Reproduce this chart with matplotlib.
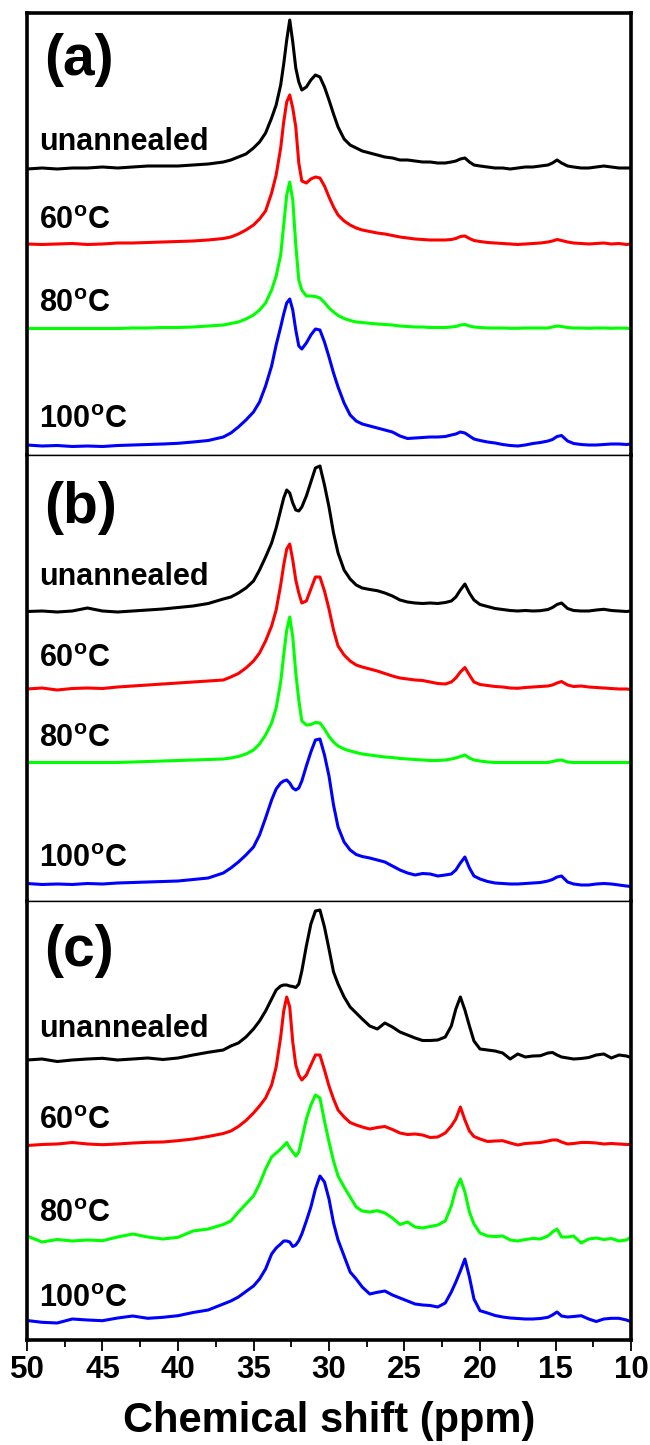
import numpy as np
import matplotlib
matplotlib.use("Agg")
import matplotlib.pyplot as plt
from matplotlib.gridspec import GridSpec

plt.rcParams['font.family'] = ['Liberation Sans', 'DejaVu Sans']
plt.rcParams['font.weight'] = 'bold'
plt.rcParams['mathtext.fontset'] = 'custom'
plt.rcParams['mathtext.rm'] = 'Liberation Sans:bold'
plt.rcParams['mathtext.bf'] = 'Liberation Sans:bold'

# Chemical shift axis (ppm), shared by every trace
ppm = np.array([
    50, 49, 48, 47, 46, 45, 44, 43, 42, 41, 40, 39, 38, 37,
    36.5, 36, 35.5, 35,
    34.6, 34.2, 33.8, 33.5, 33.2,
    33.0, 32.8, 32.6, 32.4, 32.2, 32.0,
    31.8, 31.5, 31.2, 30.9, 30.6, 30.3, 30.0,
    29.7, 29.4, 29.0, 28.6, 28.2, 27.8,
    27.3, 26.8, 26.3, 25.8, 25.3, 24.8, 24.3, 23.8, 23.3, 22.8, 22.3,
    21.9, 21.6, 21.3, 21.0, 20.7, 20.4, 20.0,
    19.5, 19.0, 18.5, 18.0, 17.5, 17.0, 16.5, 16.0, 15.5,
    15.2, 14.9, 14.6, 14.2, 13.8,
    13.3, 12.8, 12.3, 11.8, 11.3, 10.8, 10.3, 10.0])

# ---- panel (a) intensities ----
a_unannealed = [
    -2, -1, -2, -1, -1, 0, -1, 0, 1, 1, 1, 2, 3, 5,
    7, 10, 13, 19,
    25, 34, 49, 62, 82,
    103, 127, 147, 125, 99, 85,
    77, 80, 87, 92, 90, 80, 67,
    53, 40, 28, 22, 19, 16,
    14, 12, 10, 9, 7, 7, 6, 5, 5, 4, 4,
    5, 6, 8, 9, 5, 2, 1,
    0, -1, -1, -2, -1, 0, 0, 1, 2,
    4, 7, 4, 1, 0,
    -1, -1, 0, 1, 0, -1, -1, -1]
a_60 = [
    -1, -1.5, -1, -0.5, -1.5, -1, 0, 0, 0.5, 1, 1.5, 2, 3, 4.5,
    6, 9, 13, 18,
    24, 32, 50, 68, 95,
    121, 141, 148, 135, 116, 80,
    62, 60, 64, 66, 65, 57, 46,
    36, 28, 22, 18, 15, 13,
    11.5, 10, 9, 7.5, 6, 5, 4, 3.5, 3, 3, 3,
    3.5, 4.5, 6.5, 7, 4.5, 2.5, 1.5,
    0.5, 0, -0.5, -1, -1.5, -1, -0.5, 0, 1,
    2, 3.5, 2.5, 1, 0,
    -0.5, -1, -0.5, 0, -1, -0.5, -1.5, -1]
a_80 = [
    -0.5, -0.5, -0.5, -0.5, -0.5, -0.5, -0.5, 0, 0, 0.5, 0.5, 1, 2, 3,
    4.5, 6, 9, 13,
    18, 25, 38, 52, 73,
    103, 133, 146, 128, 83, 48,
    38, 32, 32, 31.5, 30, 25.5, 20,
    16, 12.5, 9.5, 7.5, 6, 5.5,
    4.7, 4, 3.5, 3, 2, 1.5, 1, 1, 0.5, 0.5, 0.5,
    1, 1.5, 3, 3.5, 2, 1, 0.5,
    0, 0, 0, -0.3, -0.3, 0, 0, 0, 0,
    1, 2, 1.5, 0.5, 0,
    0, -0.3, 0, 0, -0.3, 0, -0.3, -0.3]
a_100 = [
    -1, -2, -1.5, -2.5, -2, -2.5, -1.5, -1, -0.5, 0, 0.7, 2, 3.5, 7,
    11, 17, 24, 32,
    42, 58, 78, 99, 117,
    130, 141, 145, 134, 114, 98,
    95, 101, 109, 115, 114, 102, 87,
    71, 57, 41, 29, 23, 20,
    18, 16, 14, 12, 8, 5.5, 6, 6.5, 7, 7, 7.5,
    9, 10, 12, 11, 8, 5, 3.5,
    2, 1, -0.5, -1.5, -2, -1, 0.5, 1.5, 3,
    4.5, 7.5, 8.5, 3, 0.5,
    -0.5, -1, -1, -0.5, 0, 0, -0.5, 0]

# ---- panel (b) intensities ----
b_unannealed = [
    -1.5, -1, -2, -1, 2, -1, -2, -1, 0, 1, 2.5, 4, 6.5, 11,
    13, 17, 22, 29,
    40, 53, 67, 82, 100,
    112, 120, 117, 107, 100, 99,
    103, 114, 128, 142, 144, 125, 103,
    77, 57, 40, 31, 25, 22,
    20.5, 19.3, 17, 14, 10, 8, 7, 6.5, 7, 6.5, 7.5,
    9, 13, 20, 26, 17, 10, 5.5,
    3.5, 1.5, 0.5, -0.5, -1, -0.5, -1, -0.7, 0.5,
    2.5, 5.5, 7, 1.5, -0.5,
    -1, -1, 0, 0.7, -0.5, -1, -1.5, -1]
b_60 = [
    -1, 0, -2, -0.5, 0, -0.5, 1, 2, 3, 4, 5, 6, 7, 8,
    11, 14.5, 20, 27,
    35, 47, 62, 78, 103,
    123, 139, 144, 128, 108, 95,
    85, 87, 99, 111, 111, 97, 79,
    58, 42, 33, 27, 23, 21,
    19, 17, 14.5, 12, 10, 9, 8, 7.5, 6, 4.5, 4,
    6, 10, 16, 20.5, 13, 6, 3.5,
    2.5, 1.5, 1, 0, -0.3, 0.5, 1, 1.5, 2,
    3, 5, 6.5, 3, 1.5,
    2, 1, 0.5, 0, -0.5, -1, -1, -1.5]
b_80 = [
    0, 0, 0, 0, 0, 0, 0, 0.5, 1, 1.5, 2, 2.5, 3, 3.5,
    4.5, 6, 8.5, 12.5,
    18.5, 27.5, 39.5, 54.5, 80.5,
    107.5, 132.5, 145.5, 125.5, 89.5, 62.5,
    41.5, 37.5, 38, 40, 39.5, 33.5, 26,
    20.5, 16.5, 13.5, 11.5, 10, 8.5,
    7.5, 6.5, 5.5, 5, 4, 3.5, 3, 2.5, 2, 2, 2.5,
    3.5, 4.5, 6, 7.5, 4.5, 2.5, 1.5,
    0.5, 0, 0, 0, 0, 0, 0, 0, 0,
    1, 2, 2.5, 0.5, 0,
    0, 0, 0, 0, 0, 0, 0, 0]
b_100 = [
    0.5, -0.5, 0, -0.5, 0.5, 0, 1, 1.5, 2, 2.5, 3, 4.5, 6, 11,
    16, 22, 29, 37,
    49, 66, 84, 95, 101,
    103, 104, 101, 96, 94, 96,
    103, 118, 132, 144, 145, 129, 108,
    79, 57, 42, 34, 29.5, 27.5,
    26, 24, 22, 18, 14, 11, 9, 10.5, 10, 8, 9,
    10, 14, 21, 27, 16, 8, 5,
    2.5, 1, 0.5, 0, 0, 0.5, 1, 1.5, 3,
    4.5, 7, 8, 2, 0,
    -1, -1, 0, 0.5, 0, -1, -2, -2.5]

# ---- panel (c) intensities ----
c_unannealed = [
    -3, -2, -4.5, -3, -2, -1.3, -3, -2, -1, -2.5, -1, 2, 4.7, 7,
    11, 14, 20, 28,
    36, 46, 58, 67, 71,
    72, 72, 71, 70.5, 69.5, 73,
    86, 111, 133, 146, 147, 130, 108,
    85, 73, 60, 50, 44, 38,
    31, 28, 34, 30, 25, 22, 19, 16.5, 16.5, 17, 20,
    31, 48, 60, 47, 31, 16, 8,
    7, 6, 4, -2, 3, 0, 1, 1.3, 4,
    4.5, 2, 0, -1, -2,
    -1.5, -0.5, 2, 3, -1, 2, 1, -0.5]
c_60 = [
    -1.5, -0.5, 0, 1.5, 0, -0.7, 0, 1, 1.7, 2, 3.3, 5, 7.5, 10.5,
    13, 17.5, 23.5, 31,
    38, 46, 59, 77, 107,
    133, 147, 137, 102, 79, 69,
    64, 69, 79, 89, 89, 74, 58,
    45, 34, 27, 21.5, 19, 17,
    15, 16.5, 17.5, 14.5, 11, 9.5, 10, 9, 6.5, 7, 11,
    18, 25, 37, 24, 13, 7.5, 5,
    2.5, 3, 3.3, 1, -1, 0.5, 1, 1.5, 3,
    4, 4, 2, 0, 0.5,
    1.5, 1.5, 1, 0, 0.5, 0, -0.5, -0.5]
c_80 = [
    3, -3, -0.5, -2, -1, -1.7, 2, 5, 2, 0, 1.7, 8, 10, 14.5,
    18, 27, 35, 43,
    55, 70, 82, 86, 90,
    93, 96.5, 91, 87, 83, 87,
    100, 120, 134, 144, 141, 118, 97,
    78, 63, 52, 42, 32, 28,
    27, 28.3, 26, 21, 14.5, 17, 12, 11, 12.5, 14, 18,
    33, 50, 60, 47, 27, 15, 6,
    3, 2.5, 3, -1, -2, -0.5, 0.5, 0, 3,
    7, 10, 2, 2, 3,
    -4, 0, 1, -0.5, 0.5, -2, -1, 2]
c_100 = [
    -1.5, -3.3, -4, 0, -1, -1.7, 1, 3, 0.7, 1.7, 3.3, 6.5, 9, 15,
    18, 22, 27.5, 33,
    40, 50, 65, 71, 75,
    78, 78, 77, 72.5, 74, 78.3,
    85, 98, 112, 130, 143, 137, 120,
    96, 79, 63, 47, 40, 32,
    25, 26.7, 28, 24, 21, 18, 15, 14, 13.5, 12, 16,
    27, 37, 48, 60, 42, 20, 8.3,
    6, 3.5, 2, 1, 0.5, 0, 0, 0.5, 1.7,
    4, 7, 3, 2, 2.5,
    3.3, 0, -2.5, 0, 0.7, 0.7, -1, -2.7]

sample_names = ["unannealed", r"60$^\mathrm{o}$C", r"80$^\mathrm{o}$C", r"100$^\mathrm{o}$C"]
panel_tags = ["(a)", "(b)", "(c)"]
panel_spectra = [
    [a_unannealed, a_60, a_80, a_100],
    [b_unannealed, b_60, b_80, b_100],
    [c_unannealed, c_60, c_80, c_100],
]

# stacking layout (vertical offsets, label heights, panel heights)
trace_offsets = [[288, 212, 127, 11], [291, 213, 138.5, 17], [283, 196, 101, 21]]
label_heights = [[305, 226, 143, 27], [316, 234, 154, 34], [303, 211, 118, 33]]
tag_heights = [395, 393, 389]
panel_heights = [442, 446, 439]
colors = ["#000000", "#ff0000", "#00ff00", "#0000ff"]

fig = plt.figure(figsize=(6.5, 14.45), dpi=100)
gs = GridSpec(3, 1, figure=fig, height_ratios=panel_heights, hspace=0,
              left=27 / 650, right=631 / 650, top=1 - 13 / 1445, bottom=1 - 1340 / 1445)

axes = []
for i in range(3):
    ax = fig.add_subplot(gs[i])
    axes.append(ax)
    for spec, off, col in zip(panel_spectra[i], trace_offsets[i], colors):
        ax.plot(ppm, np.asarray(spec) + off, color=col, lw=2.2, solid_joinstyle='round')
    for name, h in zip(sample_names, label_heights[i]):
        ax.text(0.02, h, name, transform=ax.get_yaxis_transform(),
                fontsize=22, fontweight='bold', ha='left', va='baseline')
    ax.text(0.028, tag_heights[i], panel_tags[i], transform=ax.get_yaxis_transform(),
            fontsize=41, fontweight='bold', ha='left', va='center')
    ax.set_xlim(50, 10)
    ax.set_ylim(0, panel_heights[i])
    ax.set_yticks([])
    for side in ('left', 'right'):
        ax.spines[side].set_linewidth(2.6)
    ax.spines['top'].set_linewidth(2.6 if i == 0 else 1.0)
    ax.spines['bottom'].set_linewidth(2.6 if i == 2 else 1.0)
    if i < 2:
        ax.tick_params(axis='x', bottom=False, labelbottom=False)

axc = axes[2]
axc.set_xticks(np.arange(50, 9, -5))
axc.set_xticks(np.arange(47.5, 10, -5), minor=True)
axc.tick_params(axis='x', which='major', direction='out', length=8, width=1.3,
                labelsize=22.5, pad=3)
axc.tick_params(axis='x', which='minor', direction='out', length=5, width=1.3)
for lab in axc.get_xticklabels():
    lab.set_fontweight('bold')
axc.set_xlabel("Chemical shift (ppm)", fontsize=30, fontweight='bold', labelpad=11)

fig.savefig("out.png", dpi=100)
